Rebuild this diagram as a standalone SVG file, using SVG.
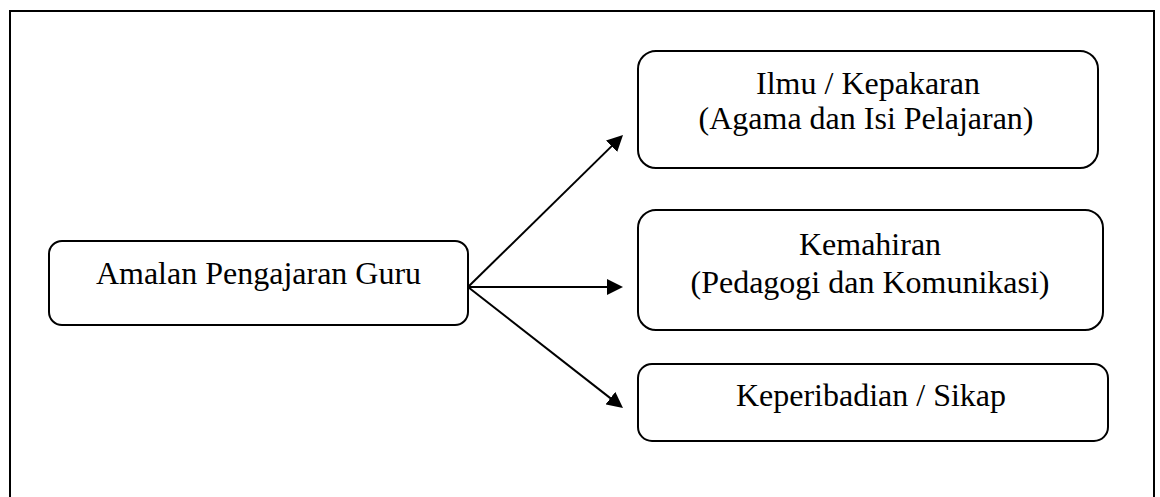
<svg xmlns="http://www.w3.org/2000/svg" width="1160" height="497" viewBox="0 0 1160 497">
<style>
.box{fill:#fff;stroke:#000;stroke-width:2}
.lbl{font-family:"Liberation Serif","Times New Roman",serif;font-size:32px;fill:#000;text-anchor:middle}
.conn{stroke:#000;stroke-width:2;fill:none;marker-end:url(#ah)}
</style>
<defs>
<marker id="ah" viewBox="0 0 16 16" refX="8" refY="8" markerWidth="16" markerHeight="16" markerUnits="userSpaceOnUse" orient="auto">
<path d="M0,0 L16,8 L0,16 z" fill="#000"/>
</marker>
</defs>
<rect x="0" y="0" width="1160" height="497" fill="#fff"/>
<rect id="frame" x="10" y="11" width="1144" height="510" fill="none" stroke="#000" stroke-width="2"/>
<g id="connectors">
<line class="conn" x1="468" y1="287" x2="617.3" y2="140.6"/>
<line class="conn" x1="468" y1="287" x2="615" y2="287"/>
<line class="conn" x1="468" y1="287" x2="616.7" y2="403.1"/>
</g>
<g id="node-amalan">
<rect class="box" x="49" y="241" width="419" height="84" rx="13"/>
<text class="lbl" x="258.5" y="284">Amalan Pengajaran Guru</text>
</g>
<g id="node-ilmu">
<rect class="box" x="638" y="51" width="460" height="117" rx="18"/>
<text class="lbl" x="868" y="94">Ilmu / Kepakaran</text>
<text class="lbl" x="866" y="129">(Agama dan Isi Pelajaran)</text>
</g>
<g id="node-kemahiran">
<rect class="box" x="638" y="210" width="465" height="120" rx="18"/>
<text class="lbl" x="870" y="255">Kemahiran</text>
<text class="lbl" x="870" y="293">(Pedagogi dan Komunikasi)</text>
</g>
<g id="node-keperibadian">
<rect class="box" x="638" y="364" width="470" height="77" rx="14"/>
<text class="lbl" x="871" y="406">Keperibadian / Sikap</text>
</g>
</svg>
